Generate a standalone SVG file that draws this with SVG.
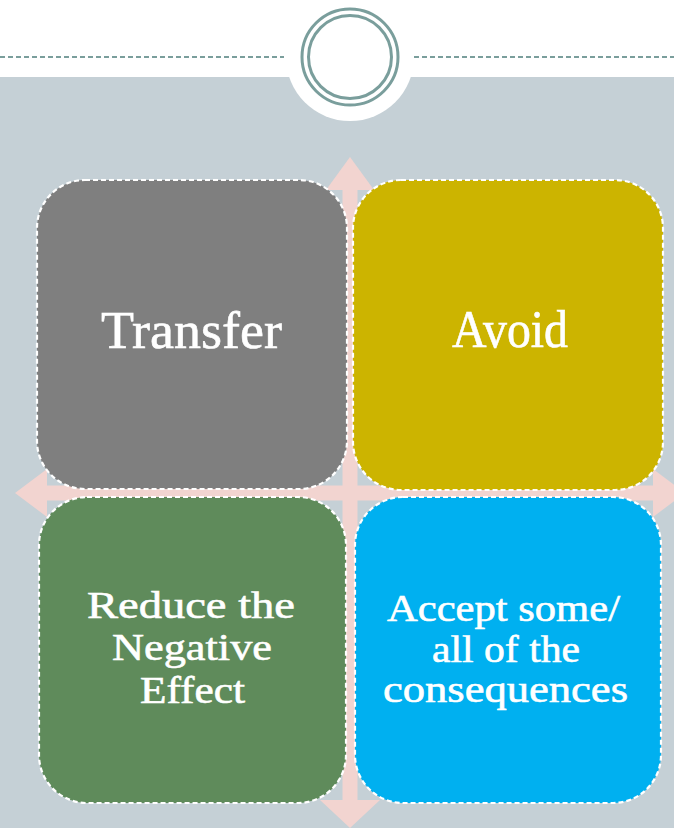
<svg xmlns="http://www.w3.org/2000/svg" width="674" height="828" viewBox="0 0 674 828">
<style>
.box{stroke:#FFFFFF;stroke-width:2.2;stroke-dasharray:5 3}
.lbl{font-family:"Liberation Serif","Times New Roman",serif;fill:#FFFFFF;stroke:#FFFFFF;stroke-width:0.6;text-anchor:middle}
.big{font-size:52px}
.sm{font-size:38px}
.arrow{fill:#F2D4D0}
.ring{fill:none;stroke:#7A9E9C;stroke-width:3}
</style>
<rect x="0" y="0" width="674" height="828" fill="#FFFFFF"/>
<rect x="0" y="77" width="674" height="751" fill="#C5D0D6"/>
<g id="header">
<circle cx="350" cy="57" r="64" fill="#FFFFFF"/>
<line x1="0" y1="57" x2="284" y2="57" stroke="#7A9E9C" stroke-width="2" stroke-dasharray="5 3"/>
<line x1="414" y1="57" x2="674" y2="57" stroke="#7A9E9C" stroke-width="2" stroke-dasharray="5 3"/>
<circle class="ring" cx="350" cy="57" r="48"/>
<circle class="ring" cx="350" cy="57" r="41.5"/>
</g>
<g id="connectors">
<rect class="arrow" x="342.5" y="185" width="15" height="620"/>
<rect class="arrow" x="45" y="485.5" width="612" height="15"/>
<polygon class="arrow" points="350,157 374,190 326,190"/>
<polygon class="arrow" points="350,828 380,800 320,800"/>
<polygon class="arrow" points="15,493 47,469 47,517"/>
<polygon class="arrow" points="685,493 653,469 653,517"/>
</g>
<g id="transfer">
<rect class="box" x="37" y="180" width="310" height="309" rx="48" fill="#7F7F7F"/>
<text class="lbl big" x="191.5" y="348" textLength="181" lengthAdjust="spacingAndGlyphs">Transfer</text>
</g>
<g id="avoid">
<rect class="box" x="353" y="180" width="310" height="310" rx="48" fill="#CCB400"/>
<text class="lbl big" x="510" y="347" textLength="116" lengthAdjust="spacingAndGlyphs">Avoid</text>
</g>
<g id="reduce">
<rect class="box" x="39" y="497" width="307" height="306" rx="48" fill="#5F8B5B"/>
<text class="lbl sm" x="191" y="618" textLength="208" lengthAdjust="spacingAndGlyphs">Reduce the</text>
<text class="lbl sm" x="192" y="660" textLength="160" lengthAdjust="spacingAndGlyphs">Negative</text>
<text class="lbl sm" x="192.5" y="703" textLength="105" lengthAdjust="spacingAndGlyphs">Effect</text>
</g>
<g id="accept">
<rect class="box" x="355" y="497" width="306" height="306" rx="48" fill="#00B0F0"/>
<text class="lbl sm" x="503.5" y="621" textLength="233" lengthAdjust="spacingAndGlyphs">Accept some/</text>
<text class="lbl sm" x="506" y="662" textLength="148" lengthAdjust="spacingAndGlyphs">all of the</text>
<text class="lbl sm" x="505.5" y="702" textLength="245" lengthAdjust="spacingAndGlyphs">consequences</text>
</g>
</svg>
